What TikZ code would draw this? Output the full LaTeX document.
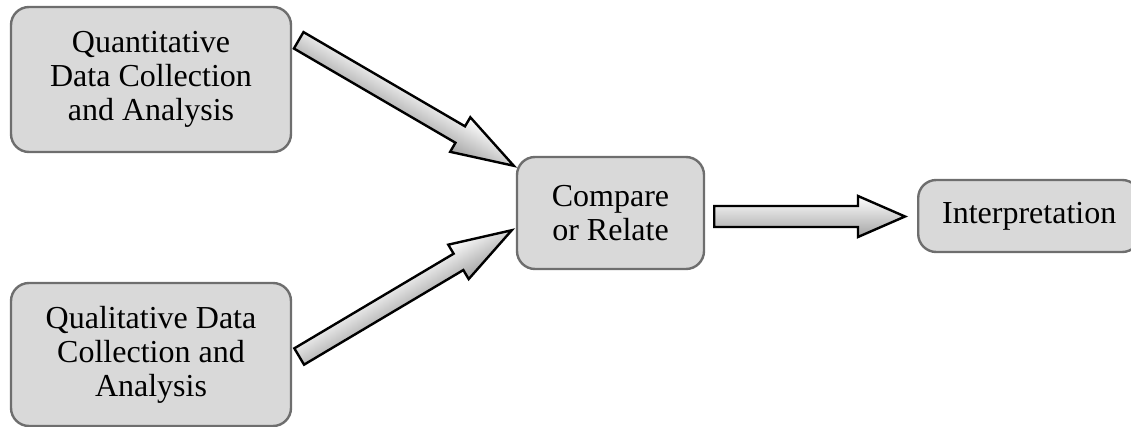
\documentclass[tikz,border=0pt]{standalone}
\usepackage{fontspec}
\setmainfont{Liberation Serif}
\usetikzlibrary{calc}

% block arrow from #1 (tail) to #2 (tip); #3 half shaft width, #4 half head
% width, #5 head length (all in pt). The arrow is drawn in its own rotated
% frame so that the gradient runs across its width.
\newcommand{\blockarrow}[5]{%
  \path let \p1=(#1), \p2=(#2) in \pgfextra{%
    \pgfmathsetmacro\baang{atan2(\y2-\y1,\x2-\x1)}%
    \pgfmathsetmacro\balen{veclen(\x2-\x1,\y2-\y1)}%
    \pgfmathsetmacro\babase{\balen-#5}%
    \xdef\baang{\baang}\xdef\balen{\balen}\xdef\babase{\babase}%
    \xdef\bax{\x1}\xdef\bay{\y1}};
  \begin{scope}[transform canvas={shift={(\bax,\bay)}, rotate=\baang}]
    \shade[arrowshade]
      (0pt,#3pt) -- (\babase pt,#3pt) -- (\babase pt,#4pt) -- (\balen pt,0pt)
      -- (\babase pt,-#4pt) -- (\babase pt,-#3pt) -- (0pt,-#3pt) -- cycle;
  \end{scope}
}

\begin{document}
\begin{tikzpicture}[x=1pt,y=-1pt,
  box/.style={draw=boxline, line width=2.4pt, fill=boxfill, rounded corners=18pt,
    inner sep=0pt, align=center, font=\fontsize{32}{34}\selectfont},
  arrowshade/.style={draw=black, line width=2.4pt, line join=miter,
    top color=white, bottom color=gray!72}
]
\definecolor{boxline}{HTML}{6E6E6E}
\definecolor{boxfill}{HTML}{D9D9D9}
\useasboundingbox (0,0) rectangle (1131,427);

\node[box, minimum width=280pt, minimum height=145pt] (quan) at (151,79.5)
  {Quantitative\\Data Collection\\and Analysis};
\node[box, minimum width=280pt, minimum height=143pt] (qual) at (151,354.5)
  {Qualitative Data\\Collection and\\Analysis};
\node[box, minimum width=187pt, minimum height=112pt] (cmp) at (610.5,213)
  {Compare\\or Relate};
\node[box, minimum width=222pt, minimum height=72pt, anchor=west] (interp) at (917,216)
  {Interpretation};

\coordinate (t1) at ([shift={(6.5,34.5)}]quan.north east);
\coordinate (h1) at ([shift={(-2,10)}]cmp.north west);
\coordinate (t2) at ([shift={(7,2)}]qual.east);
\coordinate (h2) at ([shift={(-4,-40)}]cmp.south west);
\coordinate (t3) at ([shift={(9,3.5)}]cmp.east);
\coordinate (h3) at ([shift={(-12,0.5)}]interp.west);

\blockarrow{t1}{h1}{9.5}{20}{62}
\blockarrow{t2}{h2}{9.5}{20}{62}
\blockarrow{t3}{h3}{10.5}{20.5}{47}
\end{tikzpicture}
\end{document}
